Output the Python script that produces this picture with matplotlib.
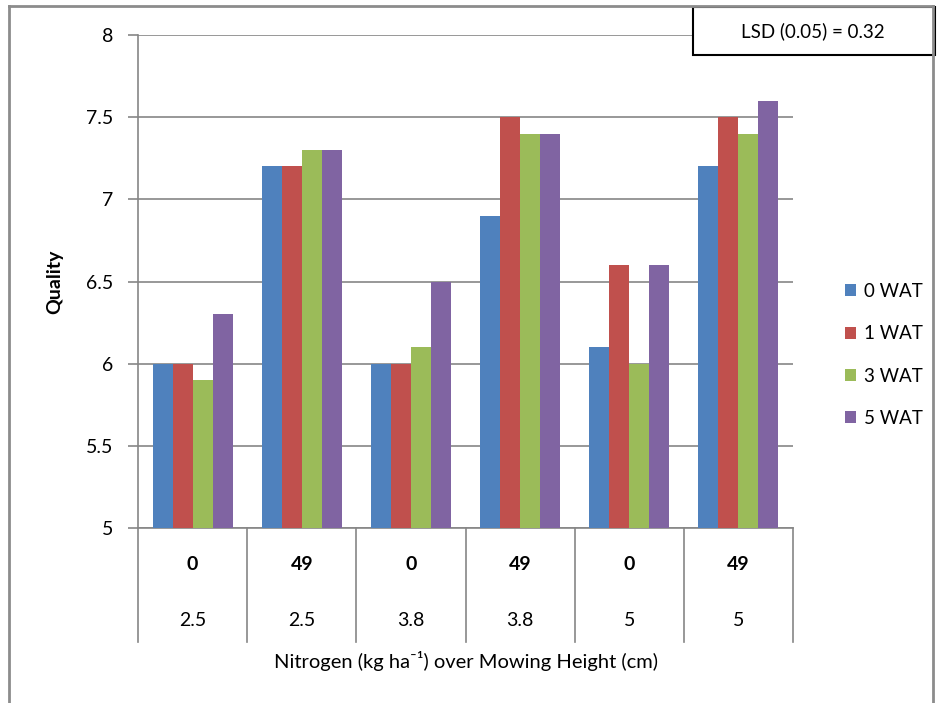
import numpy as np
import matplotlib
matplotlib.use("Agg")
import matplotlib.pyplot as plt
from matplotlib.patches import Rectangle
from matplotlib.lines import Line2D
import matplotlib.transforms as mtransforms

plt.rcParams['font.family'] = ['Lato', 'DejaVu Sans']

nitrogen = ['0', '49', '0', '49', '0', '49']
mowing = ['2.5', '2.5', '3.8', '3.8', '5', '5']
series = ['0 WAT', '1 WAT', '3 WAT', '5 WAT']
wat0 = [6.0, 7.2, 6.0, 6.9, 6.1, 7.2]
wat1 = [6.0, 7.2, 6.0, 7.5, 6.6, 7.5]
wat3 = [5.9, 7.3, 6.1, 7.4, 6.0, 7.4]
wat5 = [6.3, 7.3, 6.5, 7.4, 6.6, 7.6]
colors = ['#4F81BD', '#C0504D', '#9BBB59', '#8064A2']

W, H = 938, 703
fig = plt.figure(figsize=(W / 100, H / 100), dpi=100)
ax = fig.add_axes([138 / W, 1 - 528 / H, (793 - 138) / W, (528 - 35) / H])

grey = '#868686'
x = np.arange(len(nitrogen))
bw = 0.183
for i, vals in enumerate([wat0, wat1, wat3, wat5]):
    ax.bar(x + (i - 1.5) * bw, np.array(vals) - 5, bottom=5, width=bw,
           color=colors[i], label=series[i], zorder=3)

ax.set_xlim(-0.5, len(nitrogen) - 0.5)
ax.set_ylim(5, 8)
ax.set_yticks(np.arange(5, 8.01, 0.5))
ax.set_yticklabels(['5', '5.5', '6', '6.5', '7', '7.5', '8'])
ax.yaxis.grid(True, color=grey, linewidth=1.2, zorder=0)
ax.tick_params(axis='y', length=7, width=1.2, color=grey, pad=11, labelsize=14)
ax.tick_params(axis='x', bottom=False, labelbottom=False)
for s in ['top', 'right']:
    ax.spines[s].set_visible(False)
for s in ['left', 'bottom']:
    ax.spines[s].set_color(grey)
    ax.spines[s].set_linewidth(1.2)

# multi-level category axis
trans = mtransforms.blended_transform_factory(ax.transData, ax.transAxes)
for b in np.arange(-0.5, len(nitrogen), 1.0):
    ax.add_line(Line2D([b, b], [0, -0.231], transform=trans, color=grey,
                       linewidth=1.2, clip_on=False))
for i in range(len(nitrogen)):
    ax.text(i, -0.075, nitrogen[i], transform=trans, ha='center', va='center',
            fontsize=14, fontweight='bold')
    ax.text(i, -0.187, mowing[i], transform=trans, ha='center', va='center',
            fontsize=14)

ax.set_ylabel('Quality', fontsize=14, fontweight='bold', labelpad=16)
fig.text(466 / W, 1 - 661 / H,
         'Nitrogen (kg ha\u207b\u00b9) over Mowing Height (cm)',
         ha='center', va='center', fontsize=14.5)

fig.legend(loc='center left', bbox_to_anchor=(828 / W, 1 - 355 / H),
           frameon=False, fontsize=13.5, handlelength=0.6, handleheight=0.6,
           handletextpad=0.4, labelspacing=1.35)

# outer frame (left, top, right)
fc = '#8c8c8c'
fig.add_artist(Line2D([9 / W, 9 / W], [0, 1 - 6 / H], transform=fig.transFigure,
                      color=fc, linewidth=2))
fig.add_artist(Line2D([9 / W, 933 / W], [1 - 6 / H, 1 - 6 / H],
                      transform=fig.transFigure, color=fc, linewidth=2))
fig.add_artist(Line2D([933 / W, 933 / W], [0, 1 - 6 / H],
                      transform=fig.transFigure, color=fc, linewidth=2))

# LSD box
fig.add_artist(Rectangle((693 / W, 1 - 55 / H), (935 - 693) / W, 48 / H,
                         transform=fig.transFigure, facecolor='white',
                         edgecolor='black', linewidth=1.5))
fig.text(813 / W, 1 - 31 / H, 'LSD (0.05) = 0.32', ha='center', va='center',
         fontsize=13.5)

fig.savefig('out.png', dpi=100)
